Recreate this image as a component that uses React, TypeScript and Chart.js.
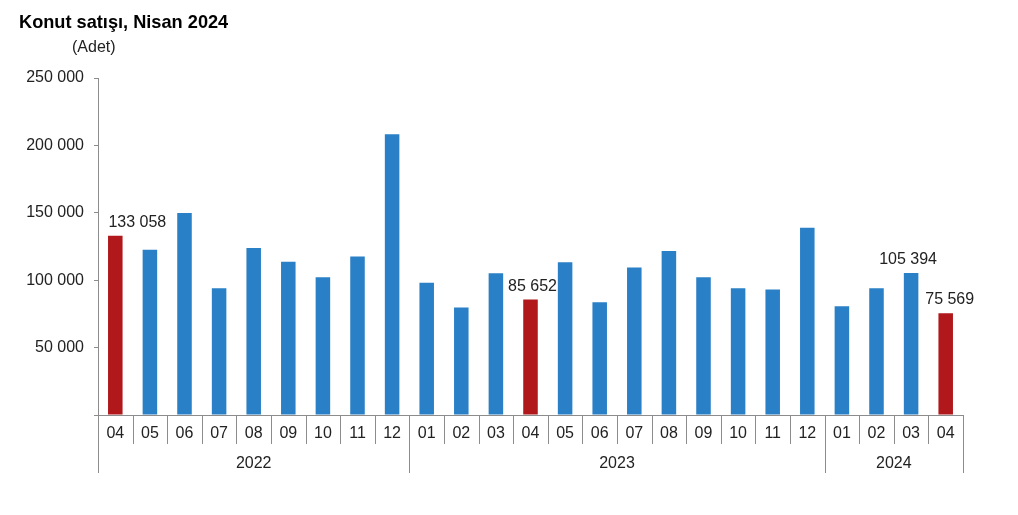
import React, { useEffect, useRef } from "react";
import { Chart, registerables } from "chart.js";

Chart.register(...registerables);

const months = ["04","05","06","07","08","09","10","11","12","01","02","03","04","05","06","07","08","09","10","11","12","01","02","03","04"];
const years = ["2022", "2023", "2024"];
const yearCounts = [9, 12, 4];
const sales = [133058, 122600, 149800, 94100, 123800, 113700, 102200, 117600, 208300, 98100, 79700, 105200, 85652, 113400, 83700, 109400, 121600, 102200, 94100, 93100, 138900, 80700, 94100, 105394, 75569];
const highlighted = [0, 12, 24];
const labelled = [0, 12, 23, 24];
const yTicks = [0, 50000, 100000, 150000, 200000, 250000];

const BLUE = "#2A80C6";
const RED = "#B0181B";
const AXIS = "#8c8c8c";
const FONT = "'Liberation Sans', Arial, sans-serif";

const fmt = (v: number) => String(v).replace(/\B(?=(\d{3})+(?!\d))/g, " ");

export default function App() {
  const ref = useRef<HTMLCanvasElement | null>(null);
  useEffect(() => {
    if (!ref.current) return;
    const labelDx: Record<number, number> = { 0: 22, 12: 2, 23: -3, 24: 4 };
    const overlay = {
      id: "overlay",
      afterDraw(chart: any) {
        const ctx = chart.ctx;
        const x = chart.scales.x;
        const y = chart.scales.y;
        const area = chart.chartArea;
        const n = months.length;
        const step = (area.right - area.left) / n;
        ctx.save();
        // title
        ctx.fillStyle = "#000";
        ctx.font = `bold 18.2px ${FONT}`;
        ctx.textAlign = "left";
        ctx.textBaseline = "alphabetic";
        ctx.fillText("Konut satışı, Nisan 2024", 19, 28);
        ctx.font = `16px ${FONT}`;
        ctx.fillStyle = "#222";
        ctx.fillText("(Adet)", 72, 52);
        // separators
        const yearBounds = [0];
        let acc = 0;
        yearCounts.forEach((c) => { acc += c; yearBounds.push(acc); });
        ctx.strokeStyle = AXIS;
        ctx.lineWidth = 1;
        for (let i = 0; i <= n; i++) {
          const bx = Math.round(area.left + i * step) + 0.5;
          const long = yearBounds.includes(i);
          ctx.beginPath();
          ctx.moveTo(bx, area.bottom);
          ctx.lineTo(bx, area.bottom + (long ? 58 : 29));
          ctx.stroke();
        }
        // month labels
        ctx.fillStyle = "#222";
        ctx.font = `16px ${FONT}`;
        ctx.textAlign = "center";
        ctx.textBaseline = "middle";
        months.forEach((m, i) => {
          ctx.fillText(m, x.getPixelForValue(i), area.bottom + 19);
        });
        // year labels
        years.forEach((yr, k) => {
          const x0 = area.left + yearBounds[k] * step;
          const x1 = area.left + yearBounds[k + 1] * step;
          ctx.fillText(yr, (x0 + x1) / 2, area.bottom + 49);
        });
        // data labels
        ctx.textBaseline = "alphabetic";
        labelled.forEach((i) => {
          const px = x.getPixelForValue(i) + (labelDx[i] || 0);
          const py = y.getPixelForValue(sales[i]) - 9;
          ctx.fillText(fmt(sales[i]), px, py);
        });
        ctx.restore();
      },
    };
    const chart = new Chart(ref.current, {
      type: "bar",
      data: {
        labels: months.map((m, i) => `${i}-${m}`),
        datasets: [
          {
            data: sales,
            backgroundColor: sales.map((_, i) => (highlighted.includes(i) ? RED : BLUE)),
            barPercentage: 0.42,
            categoryPercentage: 1,
          },
        ],
      },
      options: {
        responsive: false,
        animation: false,
        layout: { padding: { top: 78, right: 55, left: 0, bottom: 0 } },
        plugins: { legend: { display: false }, tooltip: { enabled: false }, title: { display: false } },
        scales: {
          x: {
            offset: true,
            ticks: { display: false },
            grid: { display: false },
            border: { display: true, color: AXIS, width: 1 },
            afterFit: (s: any) => { s.height = 100; },
          },
          y: {
            min: 0,
            max: 250000,
            afterBuildTicks: (s: any) => { s.ticks = yTicks.map((v) => ({ value: v })); },
            ticks: {
              padding: 10,
              color: "#222",
              font: { family: FONT, size: 16 },
              callback: (v: any) => (Number(v) === 0 ? "" : fmt(Number(v))),
            },
            grid: { drawOnChartArea: false, tickLength: 4, color: AXIS },
            border: { display: true, color: AXIS, width: 1 },
            afterFit: (s: any) => { s.width = 98; },
          },
        },
      },
      plugins: [overlay],
    });
    return () => chart.destroy();
  }, []);
  return (
    <div style={{ position: "absolute", left: 0, top: 0, width: 1018, height: 515, background: "#fff" }}>
      <canvas ref={ref} width={1018} height={515} style={{ display: "block" }} />
    </div>
  );
}
